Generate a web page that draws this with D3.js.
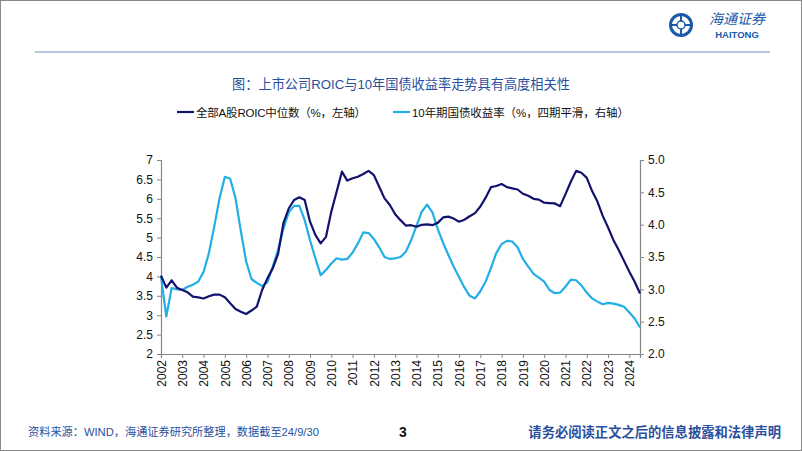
<!DOCTYPE html>
<html><head><meta charset="utf-8">
<script src="https://cdn.jsdelivr.net/npm/d3@7"></script>
<style>
html,body{margin:0;padding:0;background:#fff;}
svg{display:block;}
</style></head>
<body>
<svg id="c" width="802" height="451"></svg>
<script>
// Quarterly observations 2002Q1 .. 2024Q3
const yearLabels = ["2002","2003","2004","2005","2006","2007","2008","2009","2010","2011","2012","2013","2014","2015","2016","2017","2018","2019","2020","2021","2022","2023","2024"];
const roicMedian = [4.02,3.71,3.90,3.71,3.65,3.59,3.48,3.46,3.43,3.49,3.53,3.53,3.46,3.31,3.16,3.09,3.03,3.12,3.22,3.65,3.95,4.21,4.58,
  5.37,5.75,5.97,6.04,5.97,5.41,5.07,4.85,5.02,5.67,6.18,6.70,6.47,6.53,6.57,6.64,6.72,6.61,6.31,6.01,5.84,5.60,5.45,
  5.31,5.32,5.28,5.33,5.34,5.32,5.38,5.52,5.54,5.49,5.41,5.46,5.55,5.63,5.80,6.03,6.30,6.33,6.38,6.30,6.27,6.24,6.13,
  6.08,6.00,5.98,5.90,5.89,5.88,5.81,6.12,6.44,6.72,6.67,6.54,6.20,5.93,5.56,5.26,4.94,4.68,4.40,4.12,3.86,3.56];
const bondYield = [3.20,2.58,3.02,3.00,2.99,3.04,3.07,3.12,3.27,3.56,3.97,4.41,4.74,4.71,4.41,3.90,3.43,3.16,3.10,3.05,3.11,3.35,3.61,
  3.94,4.19,4.29,4.29,4.07,3.76,3.48,3.22,3.30,3.40,3.48,3.46,3.47,3.57,3.71,3.88,3.87,3.78,3.65,3.50,3.47,3.48,3.50,
  3.58,3.76,3.98,4.20,4.31,4.19,3.93,3.72,3.53,3.35,3.19,3.03,2.90,2.86,2.97,3.12,3.33,3.56,3.70,3.75,3.74,3.65,3.47,
  3.35,3.24,3.18,3.12,2.99,2.94,2.95,3.04,3.15,3.14,3.06,2.95,2.86,2.81,2.77,2.79,2.78,2.76,2.73,2.64,2.55,2.41];
const leftTicks = [2,2.5,3,3.5,4,4.5,5,5.5,6,6.5,7];
const rightTicks = [2.0,2.5,3.0,3.5,4.0,4.5,5.0];

const titleText = "图：上市公司ROIC与10年国债收益率走势具有高度相关性";
const legendNames = ["全部A股ROIC中位数（%，左轴）","10年期国债收益率（%，四期平滑，右轴）"];
const sourceText = "资料来源：WIND，海通证券研究所整理，数据截至24/9/30";
const disclaimer = "请务必阅读正文之后的信息披露和法律声明";

const svg = d3.select("#c");
const cjk = "'Liberation Sans', Arial, 'Noto Sans CJK SC', sans-serif";
const navy = "#12126e", cyan = "#23aee6", axisCol = "#868686", brand = "#2a4f9e";

// frame
svg.append("rect").attr("x",0.5).attr("y",0.5).attr("width",801).attr("height",450)
  .attr("fill","none").attr("stroke","#8a8a8a").attr("stroke-width",1);

// header rule
svg.append("line").attr("x1",35).attr("x2",770).attr("y1",52).attr("y2",52)
  .attr("stroke","#6f8fc6").attr("stroke-width",1.2);

// logo
const logo = svg.append("g").attr("transform","translate(681,25)");
logo.append("circle").attr("r",10.5).attr("fill","none").attr("stroke","#1a5aa8").attr("stroke-width",3);
logo.append("line").attr("x1",-10).attr("x2",10).attr("y1",0).attr("y2",0).attr("stroke","#1a5aa8").attr("stroke-width",2);
logo.append("line").attr("x1",0).attr("x2",0).attr("y1",-10).attr("y2",10).attr("stroke","#1a5aa8").attr("stroke-width",2);
logo.append("circle").attr("r",4).attr("fill","#fff").attr("stroke","#1a5aa8").attr("stroke-width",1.5);
svg.append("text").attr("x",737).attr("y",24).attr("text-anchor","middle")
  .attr("font-family","'Noto Sans CJK SC', sans-serif").attr("font-style","italic").attr("font-size",14)
  .attr("fill","#1a5aa8").text("海通证券");
svg.append("text").attr("x",737).attr("y",38).attr("text-anchor","middle")
  .attr("font-family","'Liberation Sans', Arial, sans-serif").attr("font-weight","bold").attr("font-size",9.5)
  .attr("fill","#1a5aa8").text("HAITONG");

// title
svg.append("text").attr("x",401).attr("y",89).attr("text-anchor","middle")
  .attr("font-family",cjk).attr("font-size",13.2).attr("fill",brand).text(titleText);

// legend
const legendCols = [navy, cyan];
const legendX = [177, 393];
const legendW = [170, 217];
legendNames.forEach((n,i)=>{
  svg.append("line").attr("x1",legendX[i]).attr("x2",legendX[i]+17).attr("y1",112).attr("y2",112)
    .attr("stroke",legendCols[i]).attr("stroke-width",2.2);
  svg.append("text").attr("x",legendX[i]+19).attr("y",116.5)
    .attr("font-family",cjk).attr("font-size",11.5).attr("fill","#111")
    .attr("textLength",legendW[i]).attr("lengthAdjust","spacing").text(n);
});

// scales
const n = roicMedian.length;
const x = d3.scaleLinear().domain([0, n-1]).range([161, 640]);
const yL = d3.scaleLinear().domain([2,7]).range([354,160]);
const yR = d3.scaleLinear().domain([2,5]).range([354,160]);

// axes
const gL = svg.append("g").attr("transform","translate(161,0)")
  .call(d3.axisLeft(yL).tickValues(leftTicks).tickSize(4).tickPadding(4).tickFormat(d=>d3.format("~g")(d)));
const gR = svg.append("g").attr("transform","translate(640,0)")
  .call(d3.axisRight(yR).tickValues(rightTicks).tickSize(4).tickPadding(4).tickFormat(d3.format(".1f")));
const gX = svg.append("g").attr("transform","translate(0,354)")
  .call(d3.axisBottom(x).tickValues(yearLabels.map((d,i)=>i*4)).tickSize(4).tickPadding(3)
    .tickFormat((d,i)=>yearLabels[i]));
[gL,gR,gX].forEach(g=>{
  g.select(".domain").attr("stroke",axisCol).attr("stroke-width",1.2);
  g.selectAll(".tick line").attr("stroke",axisCol).attr("stroke-width",1);
  g.selectAll("text").attr("font-family","'Liberation Sans', Arial, sans-serif").attr("font-size",12).attr("fill","#111");
});
gX.selectAll(".tick text").attr("transform","rotate(-90)").attr("text-anchor","end")
  .attr("x",-6).attr("y",0).attr("dy","0.35em");

// lines
const lineL = d3.line().x((d,i)=>x(i)).y(d=>yL(d));
const lineR = d3.line().x((d,i)=>x(i)).y(d=>yR(d));
svg.append("path").datum(bondYield).attr("d",lineR).attr("fill","none")
  .attr("stroke",cyan).attr("stroke-width",2.2).attr("stroke-linejoin","round");
svg.append("path").datum(roicMedian).attr("d",lineL).attr("fill","none")
  .attr("stroke",navy).attr("stroke-width",2.2).attr("stroke-linejoin","round");

// footer
svg.append("text").attr("x",28).attr("y",436).attr("font-family",cjk).attr("font-size",11.2)
  .attr("fill",brand).text(sourceText);
svg.append("text").attr("x",403).attr("y",437).attr("text-anchor","middle")
  .attr("font-family","'Liberation Sans', Arial, sans-serif").attr("font-weight","bold").attr("font-size",14)
  .attr("fill","#111").text("3");
svg.append("text").attr("x",781).attr("y",437).attr("text-anchor","end").attr("font-family",cjk)
  .attr("font-weight","bold").attr("font-size",13.3).attr("fill",brand).text(disclaimer);
</script>
</body></html>
